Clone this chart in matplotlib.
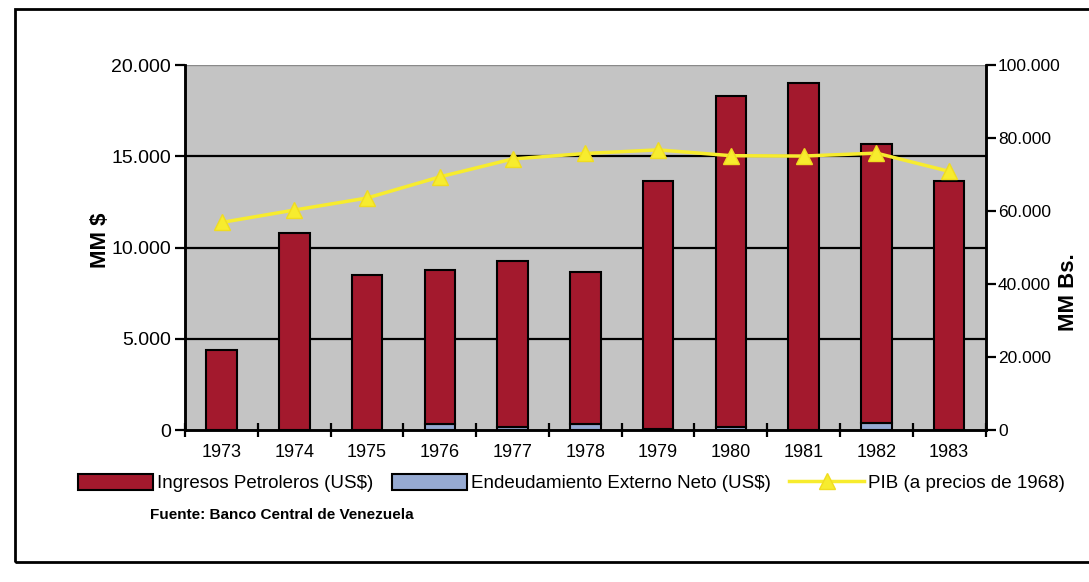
import numpy as np
import matplotlib
matplotlib.use('Agg')
import matplotlib.pyplot as plt
from matplotlib.patches import Rectangle, Patch
from matplotlib.lines import Line2D
from matplotlib.ticker import FuncFormatter, MultipleLocator

plt.rcParams['font.family'] = ['Liberation Sans', 'DejaVu Sans']

# data (millones)
years = ['1973', '1974', '1975', '1976', '1977', '1978', '1979', '1980', '1981', '1982', '1983']
endeudamiento = [0, 0, 0, 330, 150, 330, 70, 150, 0, 400, 0]          # MM $
ingresos = [4400, 10800, 8500, 8450, 9100, 8350, 13600, 18150, 19050, 15300, 13650]  # MM $
pib = [56900, 60300, 63600, 69400, 74300, 75800, 76800, 75200, 75100, 75900, 70900]  # MM Bs.

red = '#a3192d'
blue = '#96aad2'
yellow = '#f7ec2e'
gray = '#c4c4c4'

fig = plt.figure(figsize=(10.89, 5.82), dpi=100)
ax = fig.add_axes([0.170, 0.261, 0.735, 0.627])
ax2 = ax.twinx()

x = np.arange(len(years))
w = 0.42

ax.set_facecolor(gray)
ax.bar(x, endeudamiento, w, color=blue, edgecolor='black', linewidth=1.5, zorder=3)
ax.bar(x, ingresos, w, bottom=endeudamiento, color=red, edgecolor='black', linewidth=1.5, zorder=3)

for g in [5000, 10000, 15000]:
    ax.axhline(g, color='black', linewidth=1.6, zorder=1)
ax.axhline(20000, color='#8a8a8a', linewidth=1.0, zorder=1)

ax.set_ylim(0, 20000)
ax.set_xlim(-0.5, len(years) - 0.5)
ax.yaxis.set_major_locator(MultipleLocator(5000))
fmt = FuncFormatter(lambda v, p: f'{int(v):,}'.replace(',', '.'))
ax.yaxis.set_major_formatter(fmt)

ax.set_xticks(x)
ax.set_xticklabels(years)
ax.set_xticks(np.arange(-0.5, len(years)), minor=True)
ax.tick_params(axis='x', which='major', length=0, labelsize=13, pad=10)
ax.tick_params(axis='x', which='minor', length=10, width=1.6, direction='inout')
ax.tick_params(axis='y', length=7, width=1.6, labelsize=14, direction='out', pad=3)

ax2.plot(x, pib, color=yellow, linewidth=2.5, marker='^', markersize=11,
         markeredgecolor='#f0dc20', zorder=5)
ax2.set_ylim(0, 100000)
ax2.yaxis.set_major_locator(MultipleLocator(20000))
ax2.yaxis.set_major_formatter(fmt)
ax2.tick_params(axis='y', length=7, width=1.6, labelsize=12.5, direction='out', pad=2)

for a in (ax, ax2):
    a.spines['top'].set_visible(False)
    a.spines['left'].set_linewidth(1.8)
    a.spines['right'].set_linewidth(1.8)
    a.spines['bottom'].set_linewidth(1.8)

# axis titles placed by hand, as in the original layout
fig.text(0.092, 0.588, 'MM $', fontsize=16, fontweight='bold', rotation=90,
         ha='center', va='center')
fig.text(0.981, 0.498, 'MM Bs.', fontsize=16, fontweight='bold', rotation=90,
         ha='center', va='center')

handles = [
    Patch(facecolor=red, edgecolor='black', linewidth=1.5),
    Patch(facecolor=blue, edgecolor='black', linewidth=1.5),
    Line2D([0], [0], color=yellow, linewidth=2.5, marker='^', markersize=11,
           markeredgecolor='#f0dc20'),
]
labels = ['Ingresos Petroleros (US$)', 'Endeudamiento Externo Neto (US$)', 'PIB (a precios de 1968)']
fig.legend(handles, labels, loc='center', bbox_to_anchor=(0.525, 0.17), ncol=3,
           frameon=False, fontsize=13.5, handlelength=4.0, handleheight=1.0,
           handletextpad=0.2, columnspacing=1.0)

fig.text(0.138, 0.115, 'Fuente: Banco Central de Venezuela', fontsize=11,
         fontweight='bold', va='center')

fig.patches.append(Rectangle((0.014, 0.034), 1.2, 0.951, transform=fig.transFigure,
                             fill=False, edgecolor='black', linewidth=2))

fig.savefig('out.png', dpi=100)
